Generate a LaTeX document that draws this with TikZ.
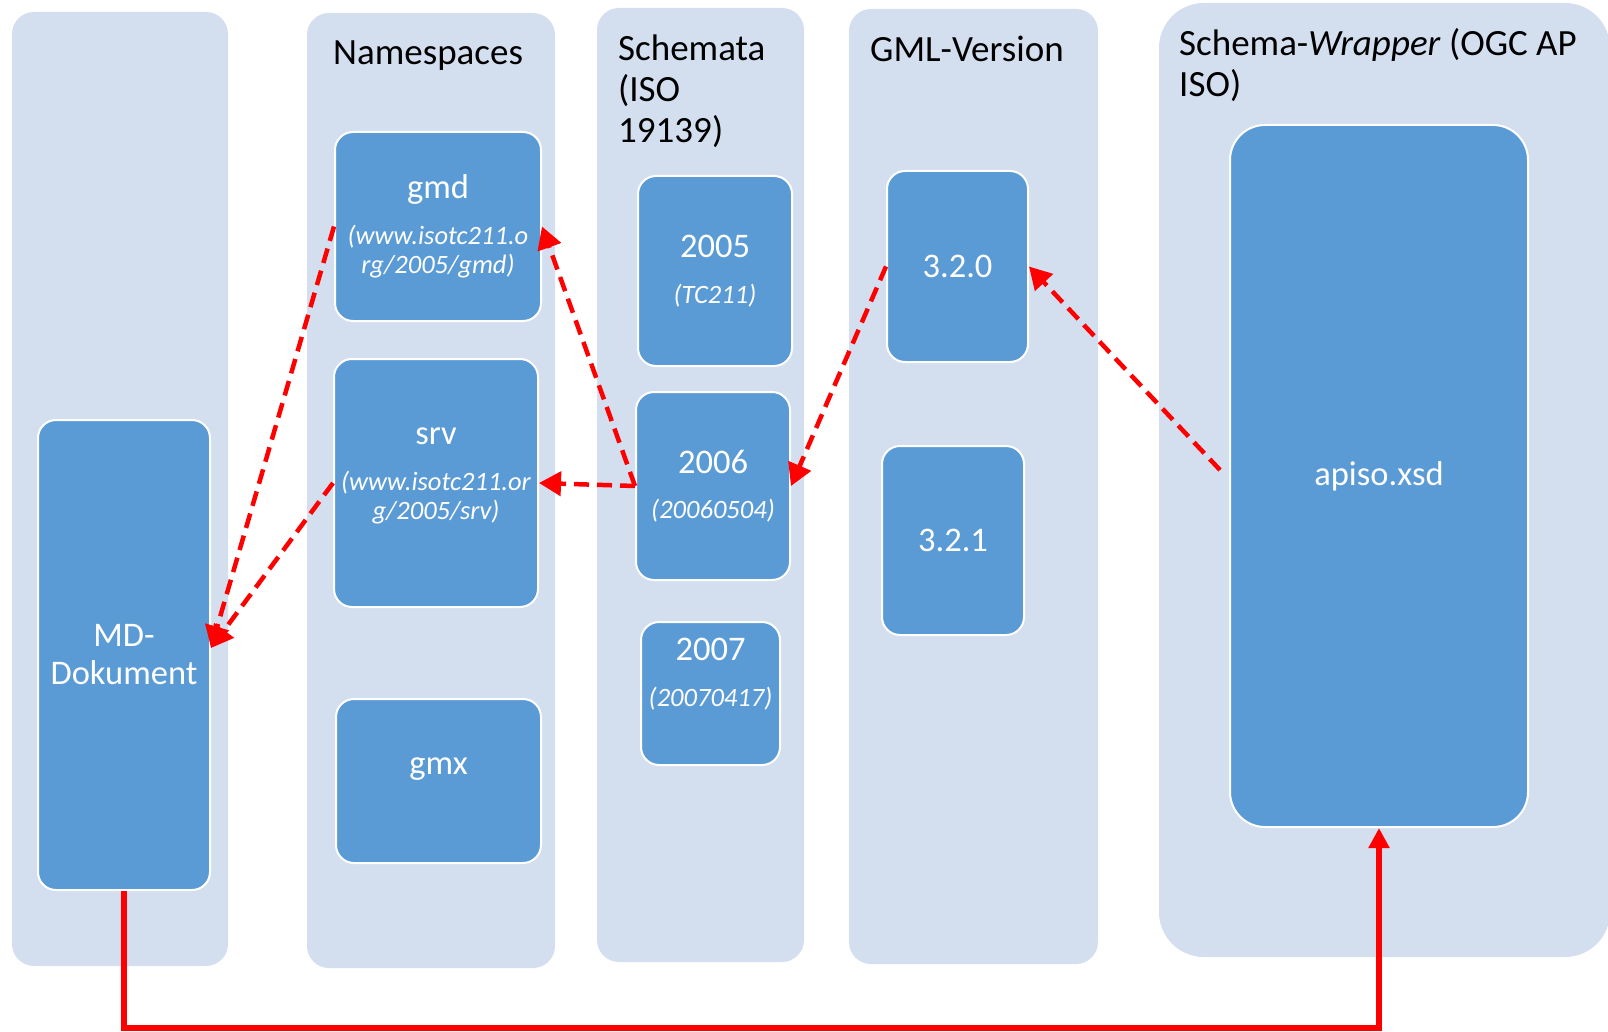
\documentclass[tikz,border=0pt]{standalone}
\usepackage{fontspec}
\setmainfont{Carlito}
\usetikzlibrary{arrows.meta}
\definecolor{lanebg}{RGB}{211,222,239}
\definecolor{boxfill}{RGB}{91,155,213}
\definecolor{linkred}{RGB}{255,0,0}
\newcommand{\subfnt}{\fontsize{26.5}{29}\selectfont\itshape}

\begin{document}
\begin{tikzpicture}[
  x=1pt, y=-1pt,
  lane/.style={fill=lanebg, rounded corners=22pt, inner sep=0pt},
  head/.style={anchor=north west, inner sep=0pt, align=left, font=\fontsize{37}{41}\selectfont},
  blk/.style={draw=white, line width=2pt, fill=boxfill, rounded corners=18pt, text=white, align=center, inner sep=0pt, font=\fontsize{34.5}{38}\selectfont},
  dep/.style={-{Triangle[length=22pt,width=24pt]}, draw=linkred, line width=4.5pt, dash pattern=on 15pt off 8pt},
  link/.style={-{Triangle[length=20pt,width=20pt]}, draw=linkred, line width=5.5pt}
]
  \useasboundingbox (0,0) rectangle (1608,1032);

  \node[lane, minimum width=216pt, minimum height=954pt] (mdL) at (120,489) {};
  \node[lane, minimum width=248pt, minimum height=955pt] (nsL) at (431,490.5) {};
  \node[lane, minimum width=207pt, minimum height=954pt] (scL) at (700.5,485) {};
  \node[lane, minimum width=249pt, minimum height=955pt] (gmlL) at (973.5,486.5) {};
  \node[lane, rounded corners=45pt, minimum width=451pt, minimum height=954pt] (wrL) at (1384.5,480) {};

  \node[head] (nsH) at (333,41) {Namespaces};
  \node[head] (scH) at (618,35) {Schemata\\(ISO\\19139)};
  \node[head] (gmlH) at (870,36) {GML-Version};
  \node[head] (wrH) at (1179,28) {Schema-\emph{Wrapper} (OGC AP\\ISO)};

  \node[blk, minimum width=172pt, minimum height=470pt] (md) at (124,655) {MD-\\Dokument};

  \node[blk, minimum width=206pt, minimum height=189pt] (gmd) at (438,226.5)
    {gmd\\[8pt]{\subfnt (www.isotc211.o}\\[-9pt]{\subfnt rg/2005/gmd)}};
  \node[blk, minimum width=204pt, minimum height=248pt] (srv) at (436,483)
    {srv\\[8pt]{\subfnt (www.isotc211.or}\\[-9pt]{\subfnt g/2005/srv)}\\[-19.5pt]\mbox{}};
  \node[blk, minimum width=205pt, minimum height=164pt] (gmx) at (438.5,781) {gmx\\[-9pt]\mbox{}};

  \node[blk, minimum width=154pt, minimum height=190pt] (y2005) at (715,271) {2005\\[8pt]{\subfnt (TC211)}};
  \node[blk, minimum width=154pt, minimum height=188pt] (y2006) at (713,486) {2006\\[7pt]{\subfnt (20060504)}};
  \node[blk, minimum width=139pt, minimum height=143pt] (y2007) at (710.5,693.5)
    {2007\\[8pt]{\subfnt (20070417)}\\[4.5pt]\mbox{}};

  \node[blk, minimum width=141pt, minimum height=191pt] (v320) at (957.5,266.5) {3.2.0};
  \node[blk, minimum width=142pt, minimum height=189pt] (v321) at (953,540.5) {3.2.1};

  \node[blk, rounded corners=35pt, minimum width=298pt, minimum height=702pt] (apiso) at (1379,476) {apiso.xsd};

  \coordinate (bend) at (700,1028);

  \draw[dep] (gmd.west) -- ([yshift=7pt]md.east);
  \draw[dep] (srv.west) -- ([yshift=7pt]md.east);
  \draw[dep] (y2006.west) -- (gmd.east);
  \draw[dep] (y2006.west) -- (srv.east);
  \draw[dep] (v320.west) -- (y2006.east);
  \draw[dep] ([xshift=-9pt,yshift=6pt]apiso.west) -- (v320.east);
  \draw[link] (md.south) |- (bend) -| (apiso.south);
\end{tikzpicture}
\end{document}
